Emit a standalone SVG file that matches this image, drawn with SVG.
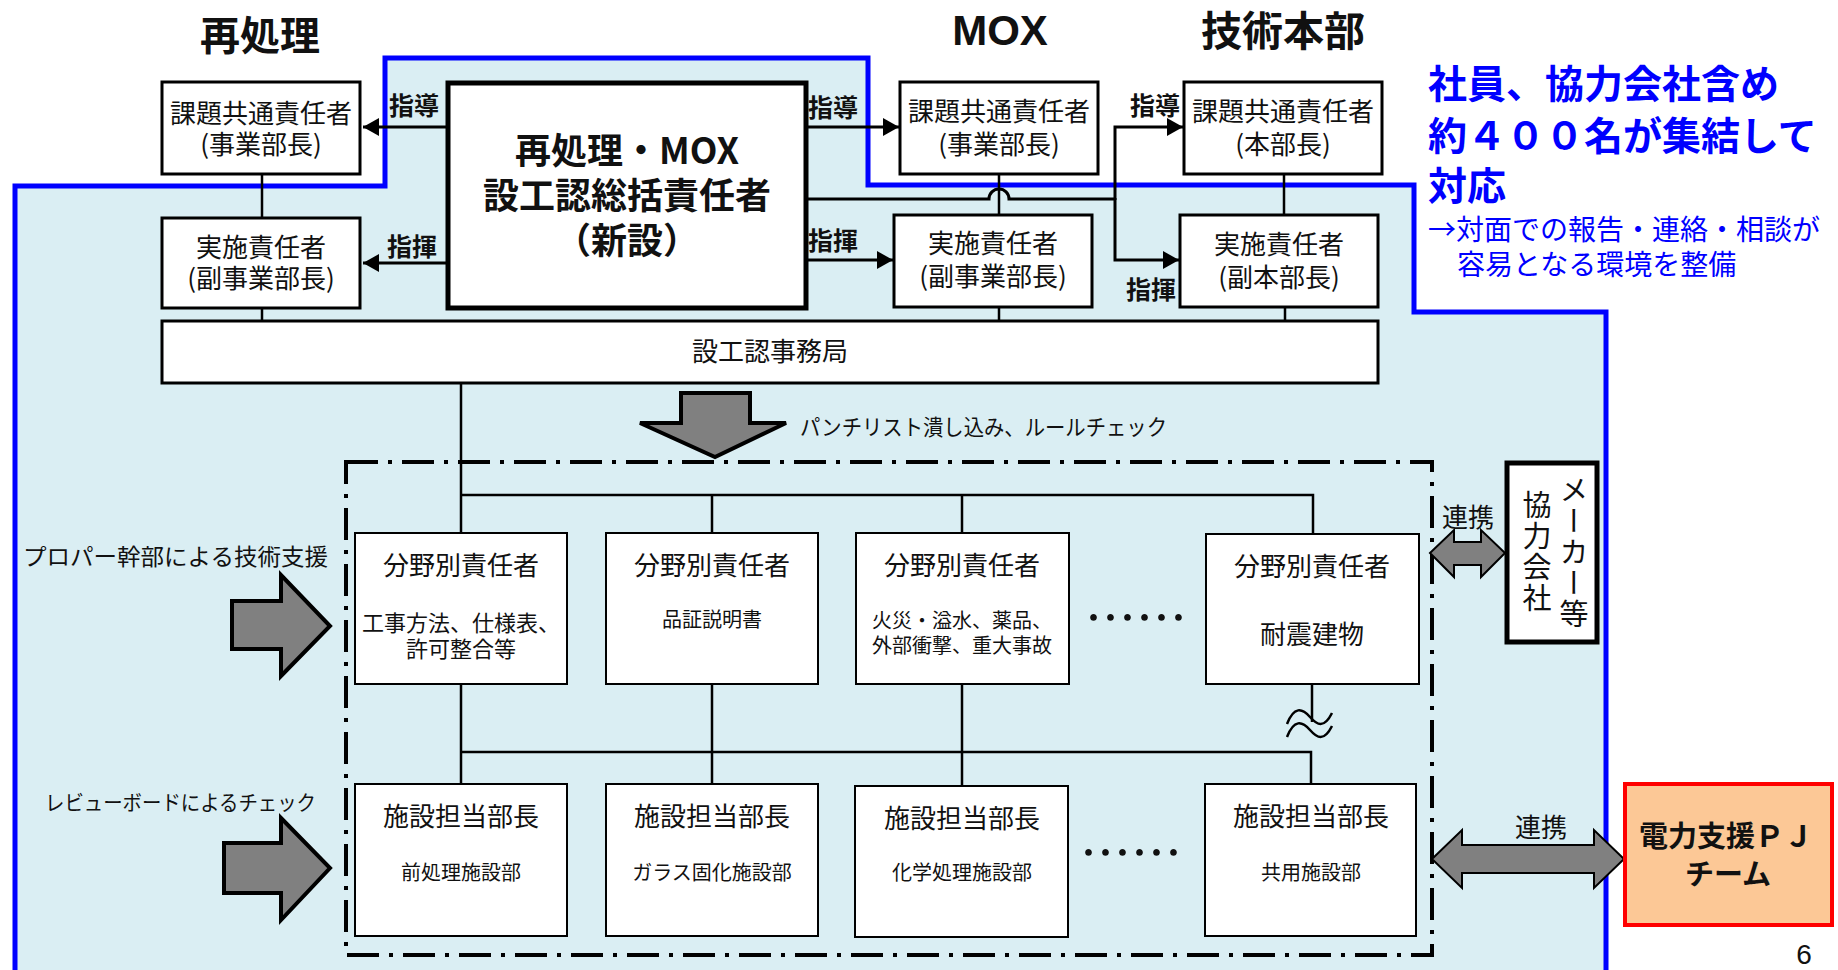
<svg xmlns="http://www.w3.org/2000/svg" width="1838" height="970" viewBox="0 0 1838 970">
<defs>
<marker id="ah" markerUnits="userSpaceOnUse" markerWidth="17" markerHeight="18" refX="16" refY="9" orient="auto"><path d="M0,0 L16,9 L0,18 z" fill="#000"/></marker>
<style>
text{font-family:"Noto Sans CJK JP","Noto Sans CJK SC",sans-serif;fill:#111}
.box{fill:#fff;stroke:#000;stroke-width:3}
.box2{fill:#fff;stroke:#000;stroke-width:2}
.thick{fill:#fff;stroke:#000;stroke-width:5}
.c{text-anchor:middle}
.b{font-weight:bold}
.s26{font-size:26px}
.s20{font-size:20px}
.lbl{font-size:25px;font-weight:bold}
.ln{fill:none;stroke:#000;stroke-width:2.5}
.arr{fill:none;stroke:#000;stroke-width:3;marker-end:url(#ah)}
.gray{fill:#808080;stroke:#000;stroke-width:4;stroke-linejoin:miter}
.gray2{fill:#808080;stroke:#000;stroke-width:2}
.blue{fill:#0000ff}
</style>
</defs>
<rect width="1838" height="970" fill="#fff"/>
<g id="region">
<path d="M15,970 V186 H385 V58 H868 V185 H1414 V312 H1606 V970 Z" fill="#daeef3"/>
<path d="M15,970 V186 H385 V58 H868 V185 H1414 V312 H1606 V970" fill="none" stroke="#0000ff" stroke-width="5"/>
</g>
<g id="titles">
<text x="260" y="50" class="c b" font-size="40">再処理</text>
<text x="1000" y="45" class="c b" font-size="42" style="font-family:'Liberation Sans',Arial,sans-serif">MOX</text>
<text x="1283" y="46" class="c b" font-size="41">技術本部</text>
</g>
<g id="note">
<text class="blue"><tspan x="1428" y="98" font-size="39" font-weight="bold">社員、協力会社含め</tspan><tspan x="1428" y="150" font-size="39" font-weight="bold">約４００名が集結して</tspan><tspan x="1428" y="200" font-size="39" font-weight="bold">対応</tspan><tspan x="1428" y="240" font-size="28">→対面での報告・連絡・相談が</tspan><tspan x="1457" y="275" font-size="28">容易となる環境を整備</tspan></text>
</g>
<g id="connectors">
<path class="ln" d="M262,174 V218 M262,308 V321 M999,174 V215 M999,307 V321 M1284,174 V215 M1285,307 V321"/>
<path class="arr" d="M453,127 H363"/>
<path class="arr" d="M448,263 H363"/>
<path class="arr" d="M806,127 H899"/>
<path class="arr" d="M806,260 H893"/>
<path fill="none" stroke="#000" stroke-width="3" d="M806,199 H989 A10,10 0 0 1 1009,199 H1115"/>
<path class="arr" d="M1115,200 V127 H1183"/>
<path class="arr" d="M1115,198 V260 H1179"/>
<path class="ln" d="M461,383 V533 M461,495 H1313 V534 M712,495 V533 M962,495 V533"/>
<path class="ln" d="M461,684 V784 M712,684 V784 M962,684 V786 M461,752 H1311 V784 M1312,684 V722"/>
<path fill="none" stroke="#000" stroke-width="2.5" d="M1287,724 C1294,706 1302,708 1310,717 C1317,725 1324,729 1332,713"/>
<path fill="none" stroke="#000" stroke-width="2.5" d="M1287,737 C1294,719 1302,721 1310,730 C1317,738 1324,742 1332,726"/>
</g>
<g id="group-box">
<rect x="346" y="462" width="1086" height="493" fill="none" stroke="#000" stroke-width="4" stroke-dasharray="32 10 4 10"/>
</g>
<g id="labels">
<text x="389" y="115" class="lbl">指導</text>
<text x="387" y="256" class="lbl">指揮</text>
<text x="808" y="117" class="lbl">指導</text>
<text x="808" y="250" class="lbl">指揮</text>
<text x="1130" y="115" class="lbl">指導</text>
<text x="1126" y="299" class="lbl">指揮</text>
</g>
<g id="n-a1"><rect class="box" x="162" y="82" width="198" height="92"/>
<text class="c s26"><tspan x="261" y="123">課題共通責任者</tspan><tspan x="261" y="154">(事業部長)</tspan></text></g>
<g id="n-a2"><rect class="box" x="162" y="218" width="198" height="90"/>
<text class="c s26"><tspan x="261" y="257">実施責任者</tspan><tspan x="261" y="288">(副事業部長)</tspan></text></g>
<g id="n-center"><rect class="thick" x="448" y="83" width="358" height="225"/>
<text class="c b" font-size="36"><tspan x="627" y="164">再処理・MOX</tspan><tspan x="627" y="209">設工認総括責任者</tspan><tspan x="627" y="254">（新設）</tspan></text></g>
<g id="n-b1"><rect class="box" x="900" y="82" width="198" height="92"/>
<text class="c s26"><tspan x="999" y="121">課題共通責任者</tspan><tspan x="999" y="154">(事業部長)</tspan></text></g>
<g id="n-b2"><rect class="box" x="894" y="215" width="198" height="92"/>
<text class="c s26"><tspan x="993" y="253">実施責任者</tspan><tspan x="993" y="286">(副事業部長)</tspan></text></g>
<g id="n-c1"><rect class="box" x="1184" y="82" width="198" height="92"/>
<text class="c s26"><tspan x="1283" y="121">課題共通責任者</tspan><tspan x="1283" y="154">(本部長)</tspan></text></g>
<g id="n-c2"><rect class="box" x="1180" y="215" width="198" height="92"/>
<text class="c s26"><tspan x="1279" y="254">実施責任者</tspan><tspan x="1279" y="287">(副本部長)</tspan></text></g>
<g id="n-bar"><rect class="box" x="162" y="321" width="1216" height="62"/>
<text x="770" y="361" class="c s26">設工認事務局</text></g>
<g id="n-down"><polygon class="gray" points="681,393 750,393 750,423 786,423 715,457 640,423 681,423"/>
<text x="800" y="435" font-size="22" textLength="367" lengthAdjust="spacingAndGlyphs">パンチリスト潰し込み、ルールチェック</text></g>
<g id="n-left1"><polygon class="gray" points="232,601 281,601 281,575 330,626 281,676 281,649 232,649"/>
<text x="23" y="565" font-size="23" textLength="305" lengthAdjust="spacingAndGlyphs">プロパー幹部による技術支援</text></g>
<g id="n-left2"><polygon class="gray" points="224,843 281,843 281,818 330,868 281,920 281,893 224,893"/>
<text x="45" y="810" font-size="21" textLength="271" lengthAdjust="spacingAndGlyphs">レビューボードによるチェック</text></g>
<g id="n-d1"><rect class="box2" x="355" y="533" width="212" height="151"/>
<text x="461" y="575" class="c s26">分野別責任者</text>
<text class="c" font-size="22"><tspan x="461" y="631">工事方法、仕様表、</tspan><tspan x="461" y="657">許可整合等</tspan></text></g>
<g id="n-d2"><rect class="box2" x="606" y="533" width="212" height="151"/>
<text x="712" y="575" class="c s26">分野別責任者</text>
<text x="712" y="627" class="c s20">品証説明書</text></g>
<g id="n-d3"><rect class="box2" x="856" y="533" width="213" height="151"/>
<text x="962" y="575" class="c s26">分野別責任者</text>
<text class="c s20"><tspan x="962" y="628">火災・溢水、薬品、</tspan><tspan x="962" y="653">外部衝撃、重大事故</tspan></text></g>
<g id="n-dots1"><text x="1136" y="637" class="c" font-size="51">……</text></g>
<g id="n-d4"><rect class="box2" x="1206" y="534" width="213" height="150"/>
<text x="1312" y="576" class="c s26">分野別責任者</text>
<text x="1312" y="644" class="c s26">耐震建物</text></g>
<g id="n-e1"><rect class="box2" x="355" y="784" width="212" height="152"/>
<text x="461" y="826" class="c s26">施設担当部長</text>
<text x="461" y="880" class="c s20">前処理施設部</text></g>
<g id="n-e2"><rect class="box2" x="606" y="784" width="212" height="152"/>
<text x="712" y="826" class="c s26">施設担当部長</text>
<text x="712" y="880" class="c s20">ガラス固化施設部</text></g>
<g id="n-e3"><rect class="box2" x="855" y="786" width="213" height="151"/>
<text x="962" y="828" class="c s26">施設担当部長</text>
<text x="962" y="880" class="c s20">化学処理施設部</text></g>
<g id="n-dots2"><text x="1131" y="872" class="c" font-size="51">……</text></g>
<g id="n-e4"><rect class="box2" x="1205" y="784" width="211" height="152"/>
<text x="1311" y="826" class="c s26">施設担当部長</text>
<text x="1311" y="880" class="c s20">共用施設部</text></g>
<g id="n-link1"><polygon class="gray2" points="1430,553 1454,530 1454,542 1481,542 1481,530 1505,553 1481,577 1481,565 1454,565 1454,577"/>
<text x="1468" y="527" class="c s26">連携</text></g>
<g id="n-maker"><rect class="thick" x="1507" y="463" width="90" height="179"/>
<text x="1574" y="475" font-size="29" letter-spacing="2" style="writing-mode:vertical-rl">メーカー等</text>
<text x="1537" y="490" font-size="29" letter-spacing="2" style="writing-mode:vertical-rl">協力会社</text></g>
<g id="n-link2"><polygon class="gray2" points="1432,859 1462,830 1462,845 1594,845 1594,830 1624,859 1594,888 1594,873 1462,873 1462,888"/>
<text x="1541" y="837" class="c s26">連携</text></g>
<g id="n-pj"><rect x="1625" y="784" width="207" height="141" fill="#fcc896" stroke="#ff0000" stroke-width="4"/>
<text class="c b" font-size="29"><tspan x="1726" y="847">電力支援ＰＪ</tspan><tspan x="1728" y="885">チーム</tspan></text></g>
<text x="1804" y="964" class="c" font-size="28" style="font-family:'Liberation Sans',Arial,sans-serif">6</text>
</svg>
